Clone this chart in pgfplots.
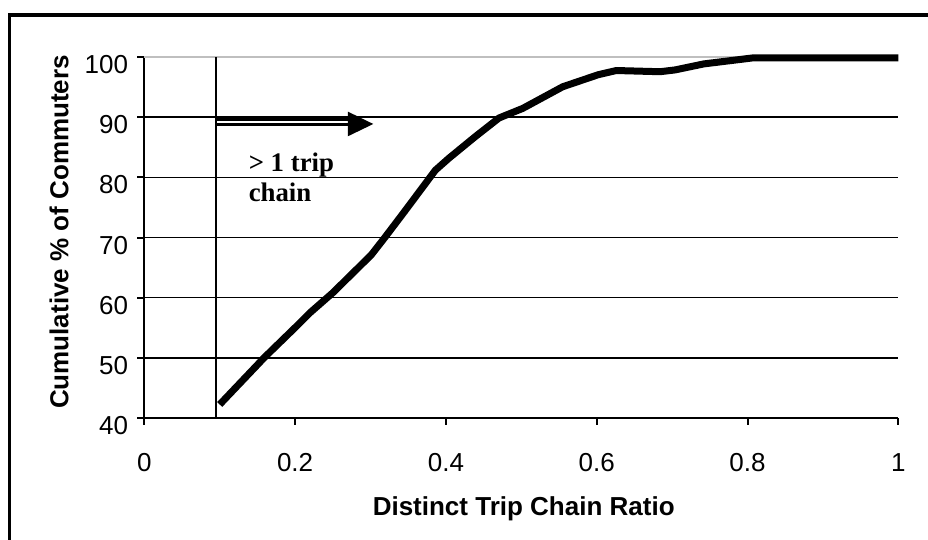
\documentclass[border=0pt]{standalone}
\usepackage{pgfplots}
\pgfplotsset{compat=1.18}
\usepackage{fontspec}
\setmainfont{Liberation Sans}
\newfontfamily\timesf{Liberation Serif}
\begin{document}
\begin{tikzpicture}
\path[use as bounding box] (0,0) rectangle (464bp,270bp);
\draw[line width=1.7bp] (4.75bp,-2bp) -- (4.75bp,262.5bp) -- (468bp,262.5bp);
\begin{axis}[
  at={(72.15bp,61.15bp)}, anchor=south west,
  scale only axis, width=377bp, height=180.2bp,
  xmin=0, xmax=1, ymin=40, ymax=100,
  axis x line*=bottom, axis y line*=left,
  axis line style={line width=1bp, black},
  xtick={0,0.2,0.4,0.6,0.8,1}, xticklabels={0,0.2,0.4,0.6,0.8,1},
  ytick={40,50,60,70,80,90,100},
  tick align=outside, major tick length=3.6bp,
  tick style={line width=1bp, black},
  /pgf/number format/assume math mode=true,
  ticklabel style={font=\fontsize{13bp}{15bp}\selectfont},
  xticklabel style={yshift=-10.7bp},
  yticklabel style={yshift=-3.8bp, xshift=-1bp},
  xlabel={Distinct Trip Chain Ratio},
  ylabel={Cumulative \% of Commuters},
  label style={font=\fontsize{13bp}{15bp}\selectfont\bfseries},
  xlabel style={at={([yshift=-48.65bp,xshift=1.2bp]rel axis cs:0.5,0)}, anchor=base},
  ylabel style={at={([xshift=-38bp,yshift=2.75bp]rel axis cs:0,0.5)}, anchor=base, rotate=0},
  clip=false,
]
\draw[line width=0.9bp] (axis cs:0,50) -- (axis cs:1,50);
\draw[line width=0.9bp] (axis cs:0,60) -- (axis cs:1,60);
\draw[line width=0.9bp] (axis cs:0,70) -- (axis cs:1,70);
\draw[line width=0.9bp] (axis cs:0,80) -- (axis cs:1,80);
\draw[line width=0.9bp] (axis cs:0,90) -- (axis cs:1,90);
\draw[black!25, line width=1bp] (axis cs:0,100) -- (axis cs:1,100);

\addplot[black, line width=1bp] coordinates {(0.095,40) (0.095,100)};

\addplot[black, line width=3.5bp, line join=round] coordinates {
(0.1,42.2) (0.15,48.8) (0.159,50) (0.2,55) (0.22,57.5) (0.25,60.8)
(0.301,67.1) (0.319,70) (0.345,74.3) (0.386,81.2) (0.404,83.2)
(0.439,86.8) (0.4705,89.9) (0.502,91.5) (0.555,95.1) (0.602,97.1)
(0.626,97.8) (0.684,97.6) (0.704,97.9) (0.742,98.9) (0.807,99.9) (1.0,99.9)
};

\draw[line width=3.7bp] (axis cs:0.095,89.2) -- (axis cs:0.272,89.2);
\draw[white, line width=1.3bp] (axis cs:0.0965,89.2) -- (axis cs:0.271,89.2);
\fill (axis cs:0.270,90.95) -- (axis cs:0.3037,88.9) -- (axis cs:0.270,86.85) -- cycle;

\node[anchor=base west, inner sep=0pt, font=\timesf\bfseries\fontsize{13.4bp}{15bp}\selectfont] at (axis cs:0.138,80.95) {> 1 trip};
\node[anchor=base west, inner sep=0pt, font=\timesf\bfseries\fontsize{13.4bp}{15bp}\selectfont] at (axis cs:0.138,76.0) {chain};
\end{axis}
\end{tikzpicture}
\end{document}
